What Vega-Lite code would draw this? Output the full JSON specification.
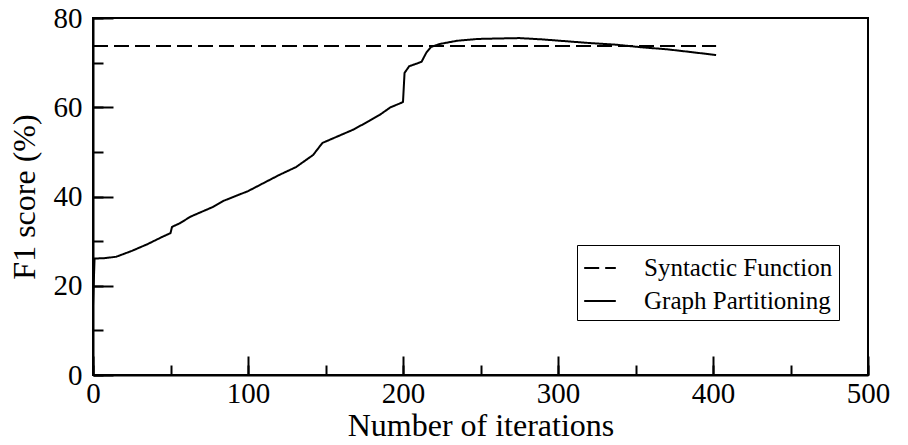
{
  "$schema": "https://vega.github.io/schema/vega-lite/v6.json",
  "autosize": {"type": "none"},
  "width": 775,
  "height": 357,
  "padding": {"left": 93, "top": 18, "right": 40, "bottom": 70},
  "background": "white",
  "view": {"stroke": "black", "strokeWidth": 2},
  "config": {
    "font": "Liberation Serif",
    "axis": {
      "grid": false,
      "domainColor": "black",
      "domainWidth": 2,
      "tickColor": "black",
      "tickWidth": 2,
      "labelColor": "black",
      "labelFont": "Liberation Serif",
      "labelFontSize": 29,
      "labelFlush": false,
      "titleFont": "Liberation Serif",
      "titleFontSize": 32,
      "titleFontWeight": "normal",
      "titleColor": "black"
    },
    "legend": {
      "labelFont": "Liberation Serif",
      "labelFontSize": 25,
      "labelColor": "black",
      "labelLimit": 400
    }
  },
  "data": {
    "values": [
      {"iter": 0, "f1": 73.7, "series": "Syntactic Function"},
      {"iter": 402, "f1": 73.7, "series": "Syntactic Function"},
      {"iter": 0, "f1": 15.5, "series": "Graph Partitioning"},
      {"iter": 1, "f1": 26.1, "series": "Graph Partitioning"},
      {"iter": 8, "f1": 26.2, "series": "Graph Partitioning"},
      {"iter": 15, "f1": 26.5, "series": "Graph Partitioning"},
      {"iter": 25, "f1": 27.8, "series": "Graph Partitioning"},
      {"iter": 35, "f1": 29.3, "series": "Graph Partitioning"},
      {"iter": 45, "f1": 31.0, "series": "Graph Partitioning"},
      {"iter": 50, "f1": 31.8, "series": "Graph Partitioning"},
      {"iter": 51, "f1": 33.2, "series": "Graph Partitioning"},
      {"iter": 56, "f1": 34.0, "series": "Graph Partitioning"},
      {"iter": 63, "f1": 35.5, "series": "Graph Partitioning"},
      {"iter": 77, "f1": 37.6, "series": "Graph Partitioning"},
      {"iter": 84, "f1": 39.0, "series": "Graph Partitioning"},
      {"iter": 100, "f1": 41.2, "series": "Graph Partitioning"},
      {"iter": 110, "f1": 43.0, "series": "Graph Partitioning"},
      {"iter": 120, "f1": 44.8, "series": "Graph Partitioning"},
      {"iter": 131, "f1": 46.6, "series": "Graph Partitioning"},
      {"iter": 142, "f1": 49.3, "series": "Graph Partitioning"},
      {"iter": 148, "f1": 52.0, "series": "Graph Partitioning"},
      {"iter": 158, "f1": 53.5, "series": "Graph Partitioning"},
      {"iter": 168, "f1": 55.0, "series": "Graph Partitioning"},
      {"iter": 178, "f1": 56.9, "series": "Graph Partitioning"},
      {"iter": 185, "f1": 58.3, "series": "Graph Partitioning"},
      {"iter": 192, "f1": 60.0, "series": "Graph Partitioning"},
      {"iter": 199, "f1": 61.0, "series": "Graph Partitioning"},
      {"iter": 200, "f1": 61.2, "series": "Graph Partitioning"},
      {"iter": 201, "f1": 67.7, "series": "Graph Partitioning"},
      {"iter": 204, "f1": 69.2, "series": "Graph Partitioning"},
      {"iter": 209, "f1": 69.8, "series": "Graph Partitioning"},
      {"iter": 212, "f1": 70.2, "series": "Graph Partitioning"},
      {"iter": 215, "f1": 72.2, "series": "Graph Partitioning"},
      {"iter": 218, "f1": 73.5, "series": "Graph Partitioning"},
      {"iter": 224, "f1": 74.2, "series": "Graph Partitioning"},
      {"iter": 235, "f1": 74.9, "series": "Graph Partitioning"},
      {"iter": 248, "f1": 75.3, "series": "Graph Partitioning"},
      {"iter": 260, "f1": 75.4, "series": "Graph Partitioning"},
      {"iter": 275, "f1": 75.5, "series": "Graph Partitioning"},
      {"iter": 290, "f1": 75.2, "series": "Graph Partitioning"},
      {"iter": 305, "f1": 74.8, "series": "Graph Partitioning"},
      {"iter": 320, "f1": 74.4, "series": "Graph Partitioning"},
      {"iter": 338, "f1": 74.0, "series": "Graph Partitioning"},
      {"iter": 355, "f1": 73.4, "series": "Graph Partitioning"},
      {"iter": 370, "f1": 73.0, "series": "Graph Partitioning"},
      {"iter": 385, "f1": 72.4, "series": "Graph Partitioning"},
      {"iter": 402, "f1": 71.7, "series": "Graph Partitioning"}
    ]
  },
  "resolve": {"axis": {"x": "independent", "y": "independent"}},
  "layer": [
    {
      "mark": {"type": "line", "color": "black", "strokeWidth": 2},
      "encoding": {
        "x": {
          "field": "iter",
          "type": "quantitative",
          "scale": {"domain": [0, 500], "nice": false},
          "axis": {
            "orient": "bottom",
            "title": "Number of iterations",
            "values": [0, 50, 100, 150, 200, 250, 300, 350, 400, 450, 500],
            "labelExpr": "datum.value % 100 === 0 ? datum.label : ''",
            "tickSize": -10,
            "labelFlush": false,
            "labelPadding": 14,
            "titlePadding": 2,
            "labelBaseline": "top"
          }
        },
        "y": {
          "field": "f1",
          "type": "quantitative",
          "scale": {"domain": [0, 80], "nice": false},
          "axis": {
            "orient": "left",
            "title": "F1 score (%)",
            "values": [0, 10, 20, 30, 40, 50, 60, 70, 80],
            "labelExpr": "datum.value % 20 === 0 ? datum.label : ''",
            "tickSize": -10,
            "labelPadding": 21,
            "titlePadding": 12
          }
        },
        "strokeDash": {
          "field": "series",
          "type": "nominal",
          "scale": {"domain": ["Syntactic Function", "Graph Partitioning"], "range": [[15, 6], [1, 0]]},
          "legend": {
            "title": null,
            "orient": "none",
            "legendX": 484,
            "legendY": 227,
            "strokeColor": "black",
            "fillColor": "white",
            "padding": 6,
            "rowPadding": 3,
            "symbolType": "stroke",
            "symbolSize": 1000,
            "symbolStrokeWidth": 2,
            "symbolStrokeColor": "black",
            "labelOffset": 27
          }
        }
      }
    },
    {
      "mark": {"type": "line", "strokeOpacity": 0},
      "encoding": {
        "x": {
          "field": "iter",
          "type": "quantitative",
          "axis": {
            "orient": "bottom",
            "title": null,
            "values": [0, 100, 200, 300, 400, 500],
            "labels": false,
            "domain": false,
            "tickSize": -19
          }
        },
        "y": {
          "field": "f1",
          "type": "quantitative",
          "axis": {
            "orient": "left",
            "title": null,
            "values": [0, 20, 40, 60, 80],
            "labels": false,
            "domain": false,
            "tickSize": -20
          }
        },
        "detail": {"field": "series", "type": "nominal"}
      }
    }
  ]
}
